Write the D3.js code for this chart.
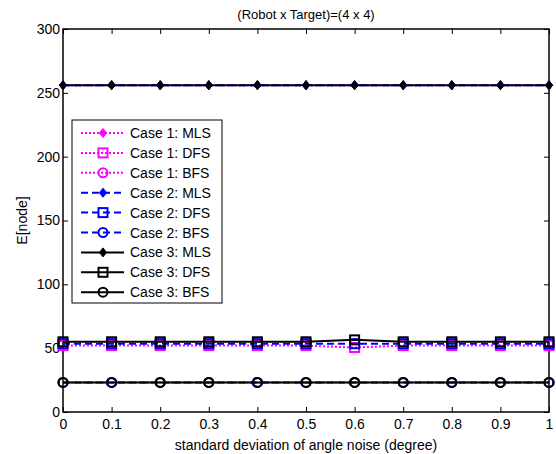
<!DOCTYPE html>
<html>
<head>
<meta charset="utf-8">
<script src="https://cdn.jsdelivr.net/npm/d3@7"></script>
<style>
  html, body { margin: 0; padding: 0; background: #fff; }
  svg { display: block; font-family: "Liberation Sans", Arial, sans-serif; }
</style>
</head>
<body>
<svg id="chart" width="556" height="454"></svg>
<script>
// Noise levels (standard deviation of angle noise, degrees)
const noise = [0, 0.1, 0.2, 0.3, 0.4, 0.5, 0.6, 0.7, 0.8, 0.9, 1];

// Expected number of expanded nodes per case and search strategy
const case1MLS = [256, 256, 256, 256, 256, 256, 256, 256, 256, 256, 256];
const case1DFS = [52, 52, 52, 52, 52, 52, 50.5, 52, 52, 52, 52];
const case1BFS = [23.2, 23.2, 23.2, 23.2, 23.2, 23.2, 23.2, 23.2, 23.2, 23.2, 23.2];
const case2MLS = [256, 256, 256, 256, 256, 256, 256, 256, 256, 256, 256];
const case2DFS = [53.5, 53.5, 53.5, 53.5, 53.5, 53.5, 53.5, 53.5, 53.5, 53.5, 53.5];
const case2BFS = [23.2, 23.2, 23.2, 23.2, 23.2, 23.2, 23.2, 23.2, 23.2, 23.2, 23.2];
const case3MLS = [256, 256, 256, 256, 256, 256, 256, 256, 256, 256, 256];
const case3DFS = [55, 55, 55, 55, 55, 55, 56.5, 55, 55, 55, 55];
const case3BFS = [23.2, 23.2, 23.2, 23.2, 23.2, 23.2, 23.2, 23.2, 23.2, 23.2, 23.2];

const xTicks = [0, 0.1, 0.2, 0.3, 0.4, 0.5, 0.6, 0.7, 0.8, 0.9, 1];
const yTicks = [0, 50, 100, 150, 200, 250, 300];

const titleText = "(Robot x Target)=(4 x 4)";
const xLabel = "standard deviation of angle noise (degree)";
const yLabel = "E[node]";

const series = [
  { name: "Case 1: MLS", values: case1MLS, color: "#ff00ff", dash: "2,2", marker: "diamond" },
  { name: "Case 1: DFS", values: case1DFS, color: "#ff00ff", dash: "2,2", marker: "square" },
  { name: "Case 1: BFS", values: case1BFS, color: "#ff00ff", dash: "2,2", marker: "circle" },
  { name: "Case 2: MLS", values: case2MLS, color: "#0000ff", dash: "7,4", marker: "diamond" },
  { name: "Case 2: DFS", values: case2DFS, color: "#0000ff", dash: "7,4", marker: "square" },
  { name: "Case 2: BFS", values: case2BFS, color: "#0000ff", dash: "7,4", marker: "circle" },
  { name: "Case 3: MLS", values: case3MLS, color: "#000000", dash: null, marker: "diamond" },
  { name: "Case 3: DFS", values: case3DFS, color: "#000000", dash: null, marker: "square" },
  { name: "Case 3: BFS", values: case3BFS, color: "#000000", dash: null, marker: "circle" }
];

const plot = { left: 63, right: 549, top: 29, bottom: 412 };

const svg = d3.select("#chart");

const x = d3.scaleLinear().domain([0, 1]).range([plot.left, plot.right]);
const y = d3.scaleLinear().domain([0, 300]).range([plot.bottom, plot.top]);

// Axes with inward ticks (box style)
const tickLen = 5;
const axisFont = "14px";

const gx = svg.append("g").attr("transform", `translate(0,${plot.bottom})`)
  .call(d3.axisBottom(x).tickValues(xTicks).tickSizeInner(-tickLen).tickSizeOuter(0).tickPadding(7)
    .tickFormat(d => d3.format("")(+d.toFixed(1))));
const gxTop = svg.append("g").attr("transform", `translate(0,${plot.top})`)
  .call(d3.axisTop(x).tickValues(xTicks).tickSizeInner(-tickLen).tickSizeOuter(0).tickFormat(""));
const gy = svg.append("g").attr("transform", `translate(${plot.left},0)`)
  .call(d3.axisLeft(y).tickValues(yTicks).tickSizeInner(-tickLen).tickSizeOuter(0).tickPadding(3));
const gyRight = svg.append("g").attr("transform", `translate(${plot.right},0)`)
  .call(d3.axisRight(y).tickValues(yTicks).tickSizeInner(-tickLen).tickSizeOuter(0).tickFormat(""));

[gx, gxTop, gy, gyRight].forEach(g => {
  g.select(".domain").remove();
  g.selectAll(".tick line").attr("stroke", "#000").attr("stroke-width", 1);
  g.selectAll(".tick text").attr("fill", "#000").style("font-size", axisFont)
    .style("font-family", "'Liberation Sans', Arial, sans-serif");
});

// Plot frame
svg.append("rect")
  .attr("x", plot.left).attr("y", plot.top)
  .attr("width", plot.right - plot.left).attr("height", plot.bottom - plot.top)
  .attr("fill", "none").attr("stroke", "#000").attr("stroke-width", 1.5);

// Marker drawing helper
function drawMarker(g, type, cx, cy, color, scale = 1) {
  if (type === "diamond") {
    const r = 4.5 * scale;
    g.append("path")
      .attr("d", `M${cx},${cy - r}L${cx + r * 0.8},${cy}L${cx},${cy + r}L${cx - r * 0.8},${cy}Z`)
      .attr("fill", color).attr("stroke", color).attr("stroke-width", 1);
  } else if (type === "square") {
    const h = 4.5 * scale;
    g.append("rect")
      .attr("x", cx - h).attr("y", cy - h).attr("width", 2 * h).attr("height", 2 * h)
      .attr("fill", "none").attr("stroke", color).attr("stroke-width", 2);
  } else {
    g.append("circle")
      .attr("cx", cx).attr("cy", cy).attr("r", 4.5 * scale)
      .attr("fill", "none").attr("stroke", color).attr("stroke-width", 2);
  }
}

const line = d3.line().x((d, i) => x(noise[i])).y(d => y(d));

const dataLayer = svg.append("g");
series.forEach(s => {
  const g = dataLayer.append("g");
  g.append("path")
    .datum(s.values)
    .attr("d", line)
    .attr("fill", "none")
    .attr("stroke", s.color)
    .attr("stroke-width", 2)
    .attr("stroke-dasharray", s.dash);
  s.values.forEach((v, i) => drawMarker(g, s.marker, x(noise[i]), y(v), s.color));
});

// Title and axis labels
svg.append("text")
  .attr("x", (plot.left + plot.right) / 2).attr("y", 19)
  .attr("text-anchor", "middle").style("font-size", "13px")
  .text(titleText);

svg.append("text")
  .attr("x", (plot.left + plot.right) / 2).attr("y", 450)
  .attr("text-anchor", "middle").style("font-size", "14px")
  .text(xLabel);

svg.append("text")
  .attr("transform", `translate(27,${(plot.top + plot.bottom) / 2}) rotate(-90)`)
  .attr("text-anchor", "middle").style("font-size", "14px")
  .text(yLabel);

// Legend
const legend = { x: 72, y: 120, w: 150, h: 183, rowStart: 133, rowStep: 19.9 };
const lg = svg.append("g");
lg.append("rect")
  .attr("x", legend.x).attr("y", legend.y).attr("width", legend.w).attr("height", legend.h)
  .attr("fill", "#fff").attr("stroke", "#000").attr("stroke-width", 1);

series.forEach((s, i) => {
  const cy = legend.rowStart + i * legend.rowStep;
  lg.append("line")
    .attr("x1", 81).attr("x2", 124).attr("y1", cy).attr("y2", cy)
    .attr("stroke", s.color).attr("stroke-width", 2)
    .attr("stroke-dasharray", s.dash);
  drawMarker(lg, s.marker, 103, cy, s.color, 1);
  lg.append("text")
    .attr("x", 130).attr("y", cy + 5)
    .style("font-size", "14px")
    .text(s.name);
});
</script>
</body>
</html>
